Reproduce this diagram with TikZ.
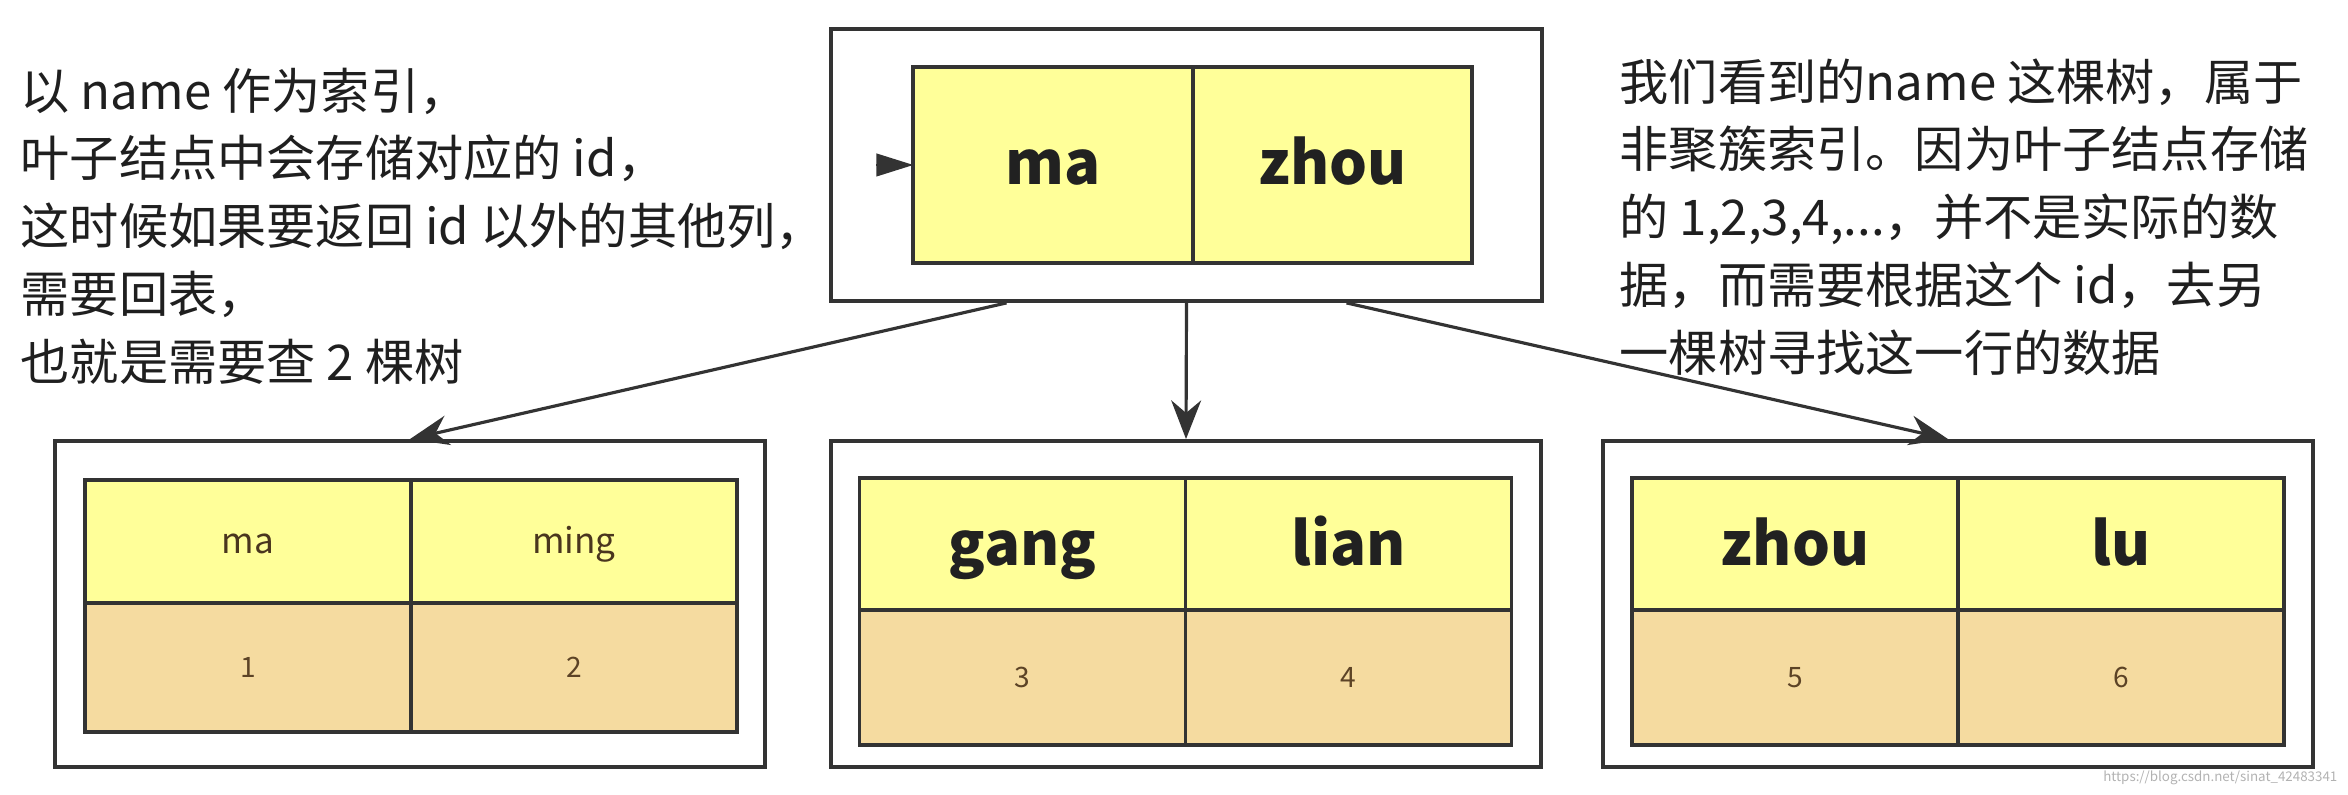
\documentclass[tikz,border=0pt]{standalone}
\usepackage{fontspec}
\setmainfont{Noto Sans CJK SC}
\usepackage{xcolor}
\usetikzlibrary{arrows.meta,positioning}
\definecolor{keyfill}{HTML}{FFFF99}
\definecolor{valfill}{HTML}{F5DBA0}
\definecolor{edge}{HTML}{333333}
\definecolor{valtext}{HTML}{5C4326}
\tikzset{
  page/.style={draw=edge, line width=1.1pt, minimum width=7.1cm, minimum height=3.26cm, inner sep=0pt},
  rootcell/.style={draw=edge, fill=keyfill, line width=1.1pt, minimum width=2.795cm, minimum height=1.96cm, inner sep=0pt, outer sep=0pt, text height=13.6pt, text depth=2.4pt, text=black!87, font=\fontsize{17}{20}\selectfont\bfseries},
  keycell/.style={draw=edge, fill=keyfill, line width=1.1pt, minimum width=3.26cm, minimum height=1.32cm, inner sep=0pt, outer sep=0pt, text height=14pt, text depth=2pt, text=black!87, font=\fontsize{17}{20}\selectfont\bfseries},
  smallkey/.style={keycell, text height=8pt, text depth=1.2pt, text=valtext!80!black, font=\fontsize{10}{12}\selectfont},
  valcell/.style={draw=edge, fill=valfill, line width=1.1pt, minimum width=3.26cm, minimum height=1.35cm, inner sep=0pt, outer sep=0pt, text height=5.9pt, text depth=0pt, text=valtext, font=\fontsize{8}{10}\selectfont},
  ptr/.style={draw=edge, line width=0.9pt, -{Stealth[length=11pt,width=8.5pt]}},
  note/.style={align=left, inner sep=0pt, text=black!88, font=\fontsize{14}{19.3}\selectfont}
}
\begin{document}
\begin{tikzpicture}
        \useasboundingbox (0,0) rectangle (23.48,7.95);
        \node[page, minimum height=2.72cm, minimum width=7.11cm] (root) at (11.865,6.30) {};
        \node[rootcell] (ma) at (10.53,6.30) {ma};
        \node[rootcell, right=0pt of ma] (zhou) {zhou};
        \coordinate (entry) at (8.76,6.30);
        \draw[draw=edge, -{Triangle[length=10.5pt,width=6.5pt]}] (entry) -- (ma.west);

        \node[page] (leafL) at (4.10,1.91) {};
        \node[smallkey, minimum height=1.23cm] (lk1) at (2.48,2.535) {ma};
        \node[smallkey, minimum height=1.23cm, right=0pt of lk1] (lk2) {ming};
        \node[valcell, minimum height=1.29cm, below=0pt of lk1] (lv1) {1};
        \node[valcell, minimum height=1.29cm, below=0pt of lk2] (lv2) {2};

        \node[page] (leafM) at (11.86,1.91) {};
        \node[keycell] (mk1) at (10.225,2.51) {gang};
        \node[keycell, right=0pt of mk1] (mk2) {lian};
        \node[valcell, below=0pt of mk1] (mv1) {3};
        \node[valcell, below=0pt of mk2] (mv2) {4};

        \node[page] (leafR) at (19.58,1.91) {};
        \node[keycell] (rk1) at (17.95,2.51) {zhou};
        \node[keycell, right=0pt of rk1] (rk2) {lu};
        \node[valcell, below=0pt of rk1] (rv1) {5};
        \node[valcell, below=0pt of rk2] (rv2) {6};

        \draw[ptr] ([xshift=-1.8cm]root.south) -- (leafL.north);
        \draw[ptr] (root.south) -- (leafM.north);
        \draw[ptr] ([xshift=1.6cm]root.south) -- ([xshift=-0.1cm]leafR.north);

        \node[note, anchor=west] (leftnote) at (0.2,5.69) {以 name 作为索引，\\叶子结点中会存储对应的 id，\\这时候如果要返回 id 以外的其他列，\\需要回表，\\也就是需要查 2 棵树};
        \node[note, anchor=west] (rightnote) at (16.19,5.78) {我们看到的name 这棵树，属于\\非聚簇索引。因为叶子结点存储\\的 1,2,3,4,...，并不是实际的数\\据，而需要根据这个 id，去另\\一棵树寻找这一行的数据};
        \node[anchor=east, inner sep=0pt, text=black!30, font=\fontsize{3.8}{4}\selectfont] (mark) at (23.38,0.17) {https://blog.csdn.net/sinat\_42483341};
\end{tikzpicture}
\end{document}
